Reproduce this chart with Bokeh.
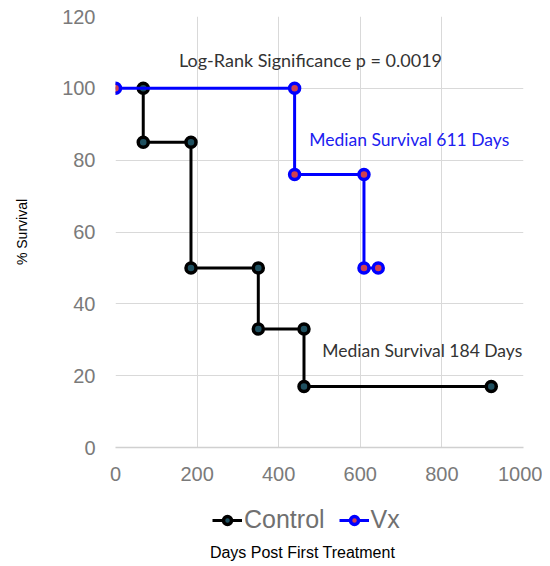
from bokeh.plotting import figure
from bokeh.layouts import column
from bokeh.models import (Range1d, FixedTicker, Legend, LegendItem, Label)
from bokeh.embed import file_html
from bokeh.resources import INLINE

# ---- data ----
control_days = [68, 68, 185, 185, 350, 350, 462, 462, 921]
control_surv = [100, 85, 85, 50, 50, 33, 33, 17, 17]
vx_days = [0, 439, 439, 609, 609, 644]
vx_surv = [100, 100, 76, 76, 50, 50]
x_ticks = [0, 200, 400, 600, 800, 1000]
y_ticks = [0, 20, 40, 60, 80, 100, 120]

CONTROL_STYLE = dict(line_color="#000000", line_width=3)
VX_STYLE = dict(line_color="#0000ff", line_width=3)
CONTROL_MARK = dict(size=10, marker="circle", line_color="#000000",
                    line_width=3.5, fill_color="#1f5060")
VX_MARK = dict(size=10, marker="circle", line_color="#0000ff",
               line_width=3.5, fill_color="#d04050")

p = figure(frame_width=408, frame_height=431, output_backend="svg", toolbar_location=None,
           x_range=Range1d(0, 1000), y_range=Range1d(0, 120),
           min_border_left=115, min_border_right=19, min_border_top=16,
           min_border_bottom=44)
p.outline_line_color = None
p.background_fill_color = "white"

p.xgrid.ticker = FixedTicker(ticks=x_ticks)
p.ygrid.ticker = FixedTicker(ticks=y_ticks)
for g in (p.xgrid[0], p.ygrid[0]):
    g.grid_line_color = "#d9d9d9"
    g.grid_line_width = 1

xa = p.xaxis[0]
ya = p.yaxis[0]
xa.ticker = FixedTicker(ticks=x_ticks)
ya.ticker = FixedTicker(ticks=y_ticks)
for ax in (xa, ya):
    ax.major_tick_out = 0
    ax.major_tick_in = 0
    ax.minor_tick_out = 0
    ax.minor_tick_in = 0
    ax.major_label_text_font = "Liberation Sans"
    ax.major_label_text_font_size = "20px"
    ax.major_label_text_color = "#7a7a7a"
xa.axis_line_color = "#d0d0d0"
xa.axis_line_width = 1.5
ya.axis_line_color = None
xa.major_label_standoff = 19
ya.major_label_standoff = 20
ya.axis_label = "% Survival"
ya.axis_label_text_font = "Liberation Sans"
ya.axis_label_text_font_size = "14px"
ya.axis_label_text_font_style = "normal"
ya.axis_label_text_color = "#000000"
ya.axis_label_standoff = 29

p.line(control_days, control_surv, **CONTROL_STYLE)
p.scatter(control_days, control_surv, **CONTROL_MARK)
p.line(vx_days, vx_surv, **VX_STYLE)
p.scatter(vx_days, vx_surv, **VX_MARK)

p.add_layout(Label(x=478, y=107.8, text="Log-Rank Significance p = 0.0019",
                   text_align="center", text_baseline="middle",
                   text_font="Lato", text_font_size="18px", text_color="#333333"))
p.add_layout(Label(x=475, y=85.8, text="Median Survival 611 Days",
                   text_align="left", text_baseline="middle",
                   text_font="Lato", text_font_size="17.5px", text_color="#2020f0"))
p.add_layout(Label(x=507, y=27, text="Median Survival 184 Days",
                   text_align="left", text_baseline="middle",
                   text_font="Lato", text_font_size="17.5px", text_color="#333333"))

# ---- strip below the chart: legend and x-axis title ----
q = figure(width=542, height=75, output_backend="svg", toolbar_location=None,
           x_range=Range1d(5000, 5542), y_range=Range1d(5000, 5075),
           x_axis_location=None, y_axis_location=None, min_border=0)
q.outline_line_color = None
q.xgrid.visible = False
q.ygrid.visible = False
qlc = q.line(control_days, control_surv, **CONTROL_STYLE)
qsc = q.scatter(control_days, control_surv, **CONTROL_MARK)
qlv = q.line(vx_days, vx_surv, **VX_STYLE)
qsv = q.scatter(vx_days, vx_surv, **VX_MARK)

legend = Legend(items=[LegendItem(label="Control", renderers=[qlc, qsc]),
                       LegendItem(label="Vx", renderers=[qlv, qsv])],
                orientation="horizontal", location=(97, 32),
                label_text_font="Liberation Sans", label_text_font_size="25px",
                label_text_color="#707070", glyph_width=30, glyph_height=20,
                label_standoff=2, spacing=14, padding=0, margin=0,
                border_line_color=None, background_fill_alpha=0)
q.add_layout(legend, "center")
q.add_layout(Label(x=187, y=14, x_units="screen", y_units="screen",
                   text="Days Post First Treatment", text_align="center",
                   text_baseline="middle", text_font="Liberation Sans",
                   text_font_size="16px", text_color="#000000"))

layout = column(p, q, spacing=0)
open("out.html", "w").write(file_html(layout, INLINE))
